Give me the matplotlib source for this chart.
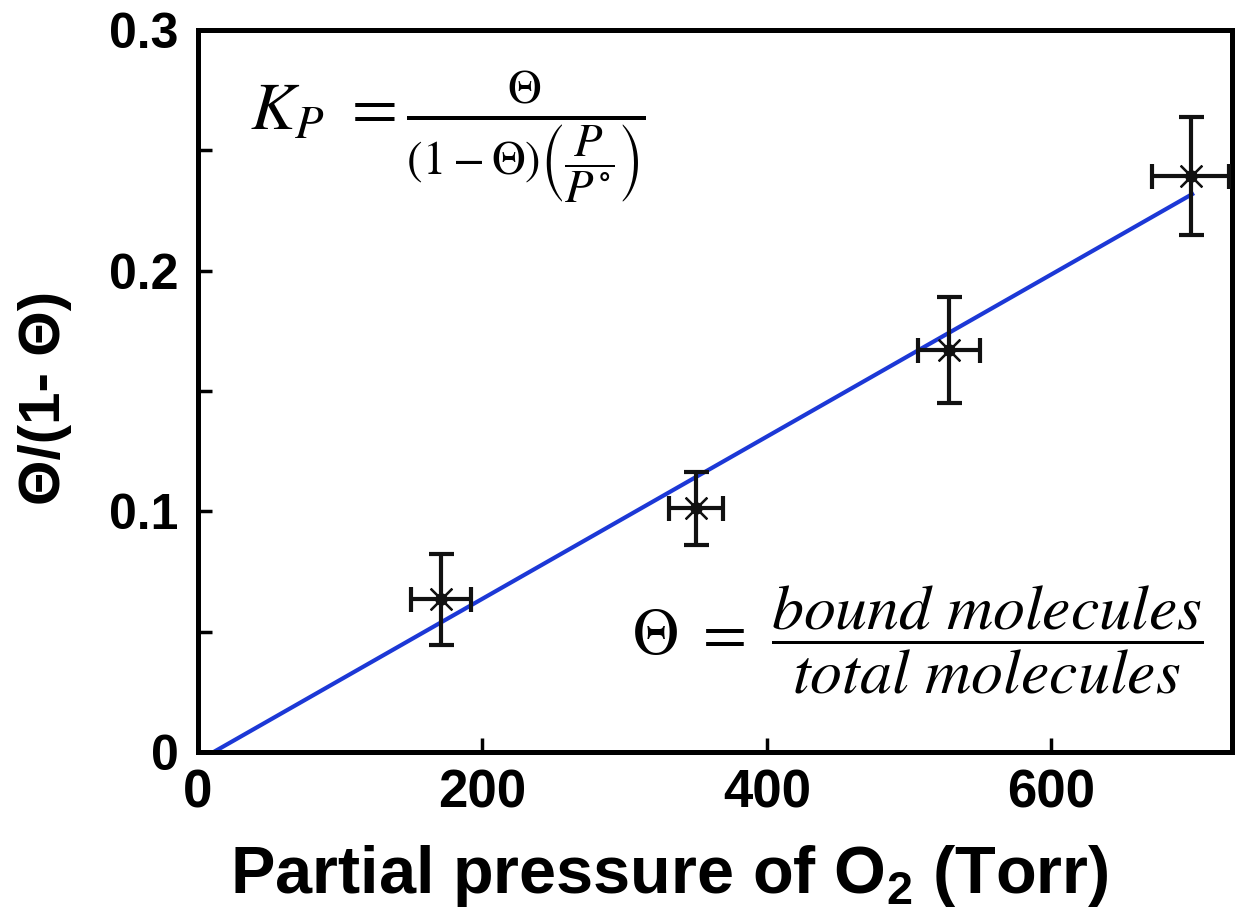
import matplotlib
matplotlib.use("Agg")
import matplotlib.pyplot as plt
from matplotlib.ticker import MultipleLocator, FixedLocator

# Data
pressure = [171, 350, 528, 698]
ratio = [0.0634, 0.1012, 0.167, 0.2393]
pressure_err = [21, 19, 22, 27]
ratio_err = [0.019, 0.015, 0.022, 0.0246]
fit_x = [11, 699]
fit_y = [0.0, 0.2318]
xticks = [0, 200, 400, 600]
yticks = [0, 0.1, 0.2, 0.3]
yticklabels = ["0", "0.1", "0.2", "0.3"]

plt.rcParams['mathtext.fontset'] = 'stix'
plt.rcParams['mathtext.bf'] = 'Liberation Sans:bold'
plt.rcParams['mathtext.rm'] = 'Liberation Sans:bold'

fig = plt.figure(figsize=(12.41, 9.13), dpi=100)
ax = fig.add_axes([198/1241, 1 - 752/913, (1232-198)/1241, (752-30)/913])

ax.plot(fit_x, fit_y, color='#1c38d6', lw=3.0, zorder=2)
ax.errorbar(pressure, ratio, xerr=pressure_err, yerr=ratio_err, fmt='none',
            ecolor='#111111', elinewidth=3.0, capsize=9, capthick=3.0, zorder=3)
ax.plot(pressure, ratio, linestyle='none', marker=(8, 2, 0), ms=22, mew=1.6,
        color='#111111', zorder=4)
ax.plot(pressure, ratio, linestyle='none', marker='o', ms=8, color='#111111', zorder=4)

ax.set_xlim(0, 727)
ax.set_ylim(0, 0.3)
ax.xaxis.set_major_locator(FixedLocator(xticks))
ax.yaxis.set_major_locator(FixedLocator(yticks))
ax.yaxis.set_minor_locator(MultipleLocator(0.05))
ax.set_yticklabels(yticklabels)

for s in ax.spines.values():
    s.set_linewidth(3.6)
ax.tick_params(axis='both', which='both', direction='in', width=2.5, length=10,
               top=False, right=False)
ax.tick_params(axis='y', which='major', pad=14)
ax.tick_params(axis='x', which='major', pad=12)
ax.tick_params(axis='x', which='minor', bottom=False)

for lab in ax.get_yticklabels():
    lab.set_fontfamily('Liberation Sans')
    lab.set_fontweight('bold')
    lab.set_fontsize(36)
for lab in ax.get_xticklabels():
    lab.set_fontfamily('Liberation Sans')
    lab.set_fontweight('bold')
    lab.set_fontsize(38)

ax.set_xlabel('Partial pressure of O$_\\mathbf{2}$ (Torr)',
              fontfamily='Liberation Sans', math_fontfamily='custom',
              fontweight='bold', fontsize=48)
ax.xaxis.set_label_coords(0.456, -0.126, transform=ax.transAxes)
ax.xaxis.label.set_va('top')
ax.set_ylabel('\u0398/(1- \u0398)', fontfamily='Liberation Sans',
              fontweight='bold', fontsize=42)
ax.yaxis.set_label_coords(-0.148, 0.49, transform=ax.transAxes)
ax.yaxis.label.set_va('center')

fig.text(250/1241, 1 - 138/913,
         r'$K_P\ =\frac{\Theta}{(1-\Theta)\left(\dfrac{P}{P^{\circ}}\right)}$',
         fontsize=48, ha='left', va='center')
fig.text(632/1241, 1 - 640/913,
         r'$\Theta\ =\ \dfrac{bound\ molecules}{total\ molecules}$',
         fontsize=46, ha='left', va='center')

fig.savefig('out.png', dpi=100)
